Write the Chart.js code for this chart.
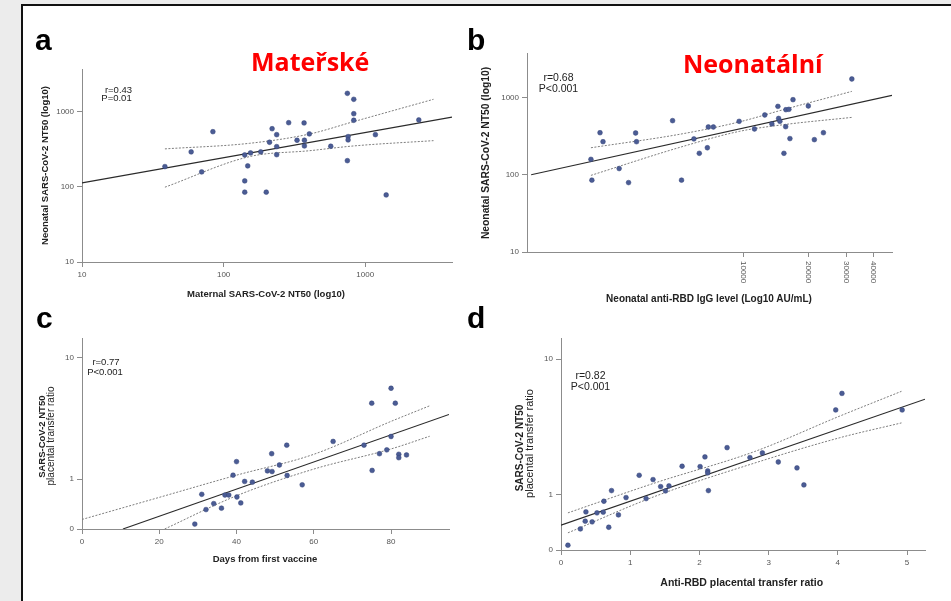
<!DOCTYPE html>
<html lang="cs">
<head>
<meta charset="UTF-8">
<title>NT50 correlations</title>
<script src="https://cdn.jsdelivr.net/npm/chart.js"></script>
<style>
  html, body { margin: 0; padding: 0; }
  body { width: 951px; height: 601px; overflow: hidden; background: #ececec; position: relative; }
  #frame { position: absolute; left: 21px; top: 4px; width: 960px; height: 620px; background: #fff;
           border-top: 2px solid #111; border-left: 2px solid #111; }
  canvas { position: absolute; }
  svg { position: absolute; left: 0; top: 0; pointer-events: none; }
  svg text { font-family: "Liberation Sans", Arial, sans-serif; fill: #222; }
  .lt { font-size: 30px; font-weight: bold; fill: #000; }
  .red { font-family: "Open Sans", sans-serif !important; font-size: 25px; font-weight: bold; fill: #fe0000 !important; }
  .ttl { font-weight: bold; }
</style>
</head>
<body>
<div id="frame"></div>
<canvas id="chartA" width="435" height="244" style="left:37px; top:54px"></canvas>
<canvas id="chartB" width="430" height="250" style="left:482px; top:38px"></canvas>
<canvas id="chartC" width="432" height="242" style="left:37px; top:323px"></canvas>
<canvas id="chartD" width="429" height="263" style="left:516px; top:323px"></canvas>

<svg width="951" height="601">
  <text x="35" y="50" class="lt">a</text>
  <text x="467" y="50" class="lt">b</text>
  <text x="36" y="328" class="lt">c</text>
  <text x="467" y="328" class="lt">d</text>
  <text x="251" y="71" class="red">Mateřské</text>
  <text x="683" y="72.5" class="red">Neonatální</text>

  <text x="118.5" y="92.5" font-size="9.5" text-anchor="middle">r=0.43</text>
  <text x="116.5" y="101" font-size="9.5" text-anchor="middle">P=0.01</text>
  <text x="558.5" y="81" font-size="10.5" text-anchor="middle">r=0.68</text>
  <text x="558.5" y="91.5" font-size="10.5" text-anchor="middle">P&lt;0.001</text>
  <text x="106" y="365" font-size="9.5" text-anchor="middle">r=0.77</text>
  <text x="105" y="375" font-size="9.5" text-anchor="middle">P&lt;0.001</text>
  <text x="590.5" y="379" font-size="10.5" text-anchor="middle">r=0.82</text>
  <text x="590.5" y="390" font-size="10.5" text-anchor="middle">P&lt;0.001</text>

  <text x="266" y="296.5" font-size="9.5" class="ttl" text-anchor="middle">Maternal SARS-CoV-2 NT50 (log10)</text>
  <text transform="translate(47.5,165.5) rotate(-90)" font-size="9.5" class="ttl" text-anchor="middle">Neonatal SARS-CoV-2 NT50 (log10)</text>
  <text x="709" y="301.5" font-size="10" class="ttl" text-anchor="middle">Neonatal anti-RBD IgG level (Log10 AU/mL)</text>
  <text transform="translate(489,153) rotate(-90)" font-size="10.3" class="ttl" text-anchor="middle">Neonatal SARS-CoV-2 NT50 (log10)</text>
  <text x="265" y="561.5" font-size="9.5" class="ttl" text-anchor="middle">Days from first vaccine</text>
  <text transform="translate(44.5,436.7) rotate(-90)" font-size="9.5" class="ttl" text-anchor="middle">SARS-CoV-2 NT50</text>
  <text transform="translate(53.5,436) rotate(-90)" font-size="10" text-anchor="middle">placental transfer ratio</text>
  <text x="741.7" y="586" font-size="10.5" class="ttl" text-anchor="middle">Anti-RBD placental transfer ratio</text>
  <text transform="translate(522.5,448) rotate(-90)" font-size="10" class="ttl" text-anchor="middle">SARS-CoV-2 NT50</text>
  <text transform="translate(533,443.5) rotate(-90)" font-size="11" text-anchor="middle">placental transfer ratio</text>
</svg>

<script>
// ---- panel a: maternal vs neonatal NT50 ----
const aX = [38.5, 59, 70, 84, 141, 141, 141, 148, 155, 183, 200, 211, 220, 237, 237, 237, 288,
            330, 370, 372, 372, 403, 571, 748, 757, 757, 748, 830, 830, 830, 1180, 1406, 2390];
const aY = [186, 292, 158, 542, 266, 120, 85, 190, 283, 292, 85, 392, 594, 495, 343, 268, 714,
            417, 708, 417, 350, 506, 347, 1754, 466, 421, 223, 1462, 940, 769, 495, 78, 776];
const aFitX = [10, 4100];
const aFitY = [113, 848];
const aCiX = [38.5, 153, 407, 825, 3035];
const aUpY = [320, 380, 506, 736, 1462];
const aLoY = [99, 253, 303, 350, 412];
const aXTicks = [10, 100, 1000];
const aYTicks = [10, 100, 1000];

// ---- panel b: neonatal anti-RBD IgG vs neonatal NT50 ----
const bX = [1960, 1980, 2160, 2230, 2650, 2930, 3160, 3190, 4690, 5160, 5890, 6240, 6800, 6870,
            7250, 9550, 11250, 12560, 13550, 14450, 14560, 14760, 15410, 15700, 15740, 16250,
            16430, 16980, 20000, 21330, 23500, 31840];
const bY = [158, 85, 349, 267, 120, 79, 346, 267, 500, 85, 290, 189, 223, 414, 414, 490, 390,
            592, 453, 765, 534, 490, 189, 418, 693, 700, 293, 934, 774, 284, 349, 1730];
const bFitX = [1035, 48900];
const bFitY = [100, 1061];
const bCiX = [1960, 5240, 9550, 15300, 31840];
const bUpY = [223, 339, 481, 693, 1196];
const bLoY = [98, 232, 363, 443, 551];
const bXTicks = [10000, 20000, 30000, 40000];
const bYTicks = [10, 100, 1000];

// ---- panel c: days from first vaccine vs NT50 transfer ratio ----
const cX = [29.2, 31.0, 32.1, 34.1, 36.1, 37.0, 38.0, 39.1, 40.0, 40.1, 41.1, 42.1, 44.1, 48.0,
            49.1, 49.2, 51.1, 53.0, 53.1, 57.0, 65.0, 73.0, 75.0, 75.1, 77.0, 78.9, 80.0, 80.0,
            81.1, 82.0, 82.0, 84.0];
const cY = [0.428, 0.751, 0.563, 0.630, 0.578, 0.741, 0.741, 1.078, 1.393, 0.714, 0.638, 0.958,
            0.945, 1.169, 1.618, 1.155, 1.307, 1.90, 1.072, 0.899, 2.04, 1.90, 4.2, 1.18, 1.618,
            1.74, 5.57, 2.24, 4.2, 1.60, 1.50, 1.58];
const cFitX = [10.6, 95];
const cFitY = [0.39, 3.4];
const cUpX = [0, 20, 40, 60, 80, 90];
const cUpY = [0.467, 0.709, 1.078, 1.60, 2.98, 4.0];
const cLoX = [21.4, 40, 60, 80, 90];
const cLoY = [0.39, 0.731, 1.21, 1.77, 2.25];
const cXTicks = [0, 20, 40, 60, 80];
const cYTicks = [0.39, 1, 10];
const cYLabels = ['0', '1', '10'];

// ---- panel d: anti-RBD transfer ratio vs NT50 transfer ratio ----
const dX = [0.10, 0.28, 0.35, 0.36, 0.45, 0.52, 0.61, 0.62, 0.69, 0.73, 0.83, 0.94, 1.13, 1.23,
            1.33, 1.44, 1.51, 1.56, 1.75, 2.01, 2.08, 2.12, 2.12, 2.13, 2.40, 2.73, 2.91, 3.14,
            3.41, 3.51, 3.97, 4.06, 4.93];
const dY = [0.423, 0.558, 0.636, 0.745, 0.629, 0.733, 0.741, 0.893, 0.574, 1.07, 0.708, 0.95,
            1.388, 0.934, 1.29, 1.145, 1.064, 1.158, 1.618, 1.608, 1.896, 1.494, 1.445, 1.07,
            2.22, 1.874, 2.03, 1.74, 1.573, 1.178, 4.21, 5.58, 4.21];
const dFitX = [0, 5.26];
const dFitY = [0.595, 5.06];
const dCiX = [0.1, 1.36, 2.8, 4.02, 4.92];
const dUpY = [0.733, 1.22, 2.08, 3.78, 5.78];
const dLoY = [0.522, 0.971, 1.71, 2.62, 3.38];
const dXTicks = [0, 1, 2, 3, 4, 5];
const dYTicks = [0.39, 1, 10];
const dYLabels = ['0', '1', '10'];

const FONT = '"Liberation Sans", Arial, sans-serif';
const AXIS = '#8c8c8c';

function pts(xs, ys) {
    return xs.map((x, i) => ({ x: x, y: ys[i] }));
}

function makeSets(xs, ys, fx, fy, ux, uy, lx, ly) {
    const ci = { showLine: true, borderColor: '#7d7d7d', borderWidth: 1, borderDash: [2, 1.5],
                 pointRadius: 0, cubicInterpolationMode: 'monotone', fill: false };
    return [
        { data: pts(xs, ys), backgroundColor: '#4b5c94', borderColor: '#34457a', borderWidth: 0.5, pointRadius: 2.4 },
        { data: pts(fx, fy), showLine: true, borderColor: '#2a2a2a', borderWidth: 1.1, pointRadius: 0, fill: false },
        Object.assign({ data: pts(ux, uy) }, ci),
        Object.assign({ data: pts(lx, ly) }, ci)
    ];
}

function makeAxis(kind, type, min, max, tickVals, labels, showLabels) {
    return {
        type: type, min: min, max: max,
        afterBuildTicks: s => { s.ticks = tickVals.map(v => ({ value: v })); },
        afterFit: s => { if (kind === 'x') s.height = 36; else s.width = 45; },
        ticks: {
            display: showLabels !== false,
            autoSkip: false, maxRotation: 0, minRotation: 0, padding: 3,
            color: '#555', font: { size: 8, family: FONT },
            callback: (v, i) => labels ? labels[i] : String(tickVals[i])
        },
        grid: { drawOnChartArea: false, drawTicks: true, tickLength: 5, color: AXIS },
        border: { color: AXIS, width: 1 }
    };
}

// rotated (top-to-bottom) tick labels for panel b
const verticalTicks = {
    id: 'verticalTicks',
    afterDraw(chart) {
        const s = chart.scales.x;
        const ctx = chart.ctx;
        ctx.save();
        ctx.font = '8px ' + FONT;
        ctx.fillStyle = '#555';
        ctx.textAlign = 'left';
        ctx.textBaseline = 'middle';
        bXTicks.forEach(v => {
            ctx.save();
            ctx.translate(s.getPixelForValue(v), s.top + 9);
            ctx.rotate(Math.PI / 2);
            ctx.fillText(String(v), 0, 0);
            ctx.restore();
        });
        ctx.restore();
    }
};

function makeChart(id, sets, xAxis, yAxis, plugins) {
    return new Chart(document.getElementById(id), {
        type: 'scatter',
        data: { datasets: sets },
        options: {
            responsive: false, animation: false, devicePixelRatio: 1, events: [],
            layout: { padding: { top: 15, right: 20, bottom: 0, left: 0 } },
            plugins: { legend: { display: false }, tooltip: { enabled: false } },
            scales: { x: xAxis, y: yAxis }
        },
        plugins: plugins || []
    });
}

makeChart('chartA',
    makeSets(aX, aY, aFitX, aFitY, aCiX, aUpY, aCiX, aLoY),
    makeAxis('x', 'logarithmic', 10, 4100, aXTicks),
    makeAxis('y', 'logarithmic', 10, 3700, aYTicks));

makeChart('chartB',
    makeSets(bX, bY, bFitX, bFitY, bCiX, bUpY, bCiX, bLoY),
    makeAxis('x', 'logarithmic', 990, 48900, bXTicks, null, false),
    makeAxis('y', 'logarithmic', 10, 3750, bYTicks),
    [verticalTicks]);

makeChart('chartC',
    makeSets(cX, cY, cFitX, cFitY, cUpX, cUpY, cLoX, cLoY),
    makeAxis('x', 'linear', 0, 95, cXTicks),
    makeAxis('y', 'logarithmic', 0.39, 14.4, cYTicks, cYLabels));

makeChart('chartD',
    makeSets(dX, dY, dFitX, dFitY, dCiX, dUpY, dCiX, dLoY),
    makeAxis('x', 'linear', 0, 5.26, dXTicks),
    makeAxis('y', 'logarithmic', 0.39, 14.3, dYTicks, dYLabels));
</script>
</body>
</html>
